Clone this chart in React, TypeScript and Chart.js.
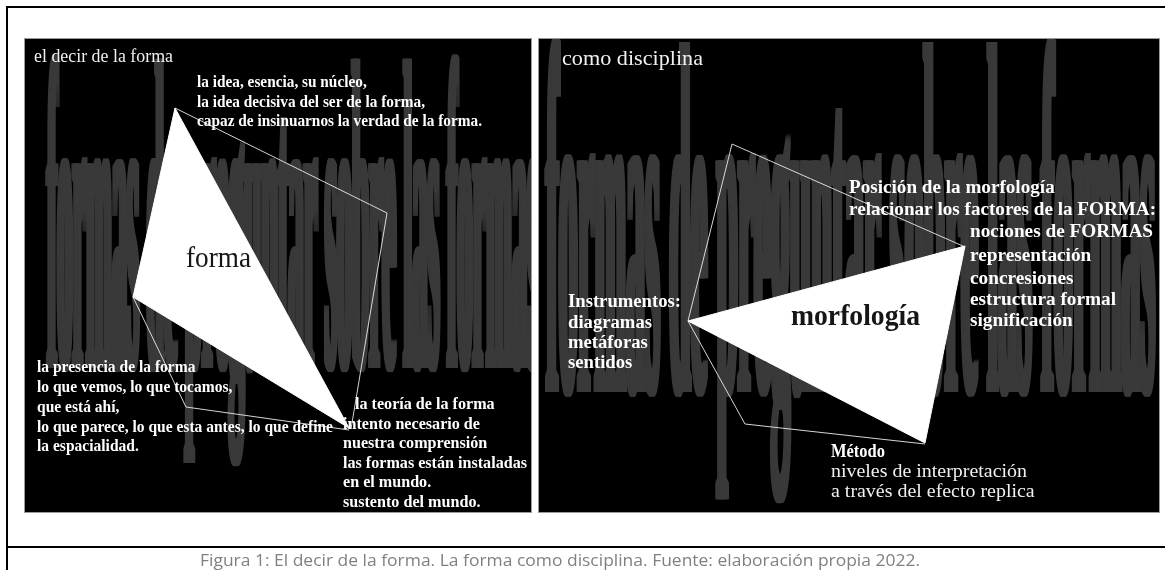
import React, { useEffect, useRef } from "react";
import { Chart, registerables } from "chart.js";

Chart.register(...registerables);

const W = 1165;
const H = 570;

// ---------- diagram data (diagram units) ----------
const panelLeftX = [24, 532];
const panelRightX = [538, 1160];
const panelY = [38, 513];

const leftTriangleX = [175, 133, 349, 175];
const leftTriangleY = [108, 297, 428, 108];
const leftUpperOutlineX = [175, 387, 351];
const leftUpperOutlineY = [108, 213, 429];
const leftLowerOutlineX = [133, 186, 349];
const leftLowerOutlineY = [297, 407, 430];

const rightTriangleX = [688, 965, 925, 688];
const rightTriangleY = [321, 246, 443, 321];
const rightUpperOutlineX = [688, 732, 965];
const rightUpperOutlineY = [321, 144, 247];
const rightLowerOutlineX = [688, 745, 925];
const rightLowerOutlineY = [321, 424, 444];

// ---------- texts ----------
const leftTitle = "el decir de la forma";
const rightTitle = "como disciplina";
const ideaLines = [
  "la idea, esencia, su núcleo,",
  "la idea decisiva del ser de la forma,",
  "capaz de insinuarnos la verdad de la forma.",
];
const presenciaLines = [
  "la presencia de la forma",
  "lo que vemos, lo que tocamos,",
  "que está ahí,",
  "lo que parece, lo que esta antes, lo que define",
  "la espacialidad.",
];
const teoriaLines = [
  "la teoría de la forma",
  "intento necesario de",
  "nuestra comprensión",
  "las formas están instaladas",
  "en el mundo.",
  "sustento del mundo.",
];
const leftCenterLabel = "forma";
const rightCenterLabel = "morfología";
const posicionLines = ["Posición de la morfología", "relacionar los factores de la FORMA:"];
const nocionesLines = ["nociones de FORMAS", "representación", "concresiones", "estructura formal", "significación"];
const instrumentosLines = ["Instrumentos:", "diagramas", "metáforas", "sentidos"];
const metodoTitle = ["Método"];
const metodoLines = ["niveles de interpretación", "a través del efecto replica"];
const watermarkText = "formas de preguntar sobre las formas";
const captionText = "Figura 1: El decir de la forma. La forma como disciplina. Fuente: elaboración propia 2022.";

// ---------- layout / style (kept apart from data) ----------
const SERIF = '"Liberation Serif", "Times New Roman", serif';
const SANS = '"Open Sans", Lato, "Noto Sans", sans-serif';

type Block = {
  lines: string[];
  x: number;
  ys: number[];
  size: number;
  bold: boolean;
  color: string;
  fit: number;
  fitWidth: number;
  indent?: number[];
  family?: string;
};

const blocks: Block[] = [
  { lines: [leftTitle], x: 34, ys: [62], size: 19, bold: false, color: "#f0f0f0", fit: 0, fitWidth: 139 },
  { lines: ideaLines, x: 197, ys: [87, 107, 126], size: 17, bold: true, color: "#ffffff", fit: 2, fitWidth: 285 },
  { lines: [leftCenterLabel], x: 186, ys: [267], size: 30, bold: false, color: "#161616", fit: 0, fitWidth: 65 },
  { lines: presenciaLines, x: 37, ys: [372, 392, 412, 432, 451], size: 17, bold: true, color: "#ffffff", fit: 3, fitWidth: 296 },
  { lines: teoriaLines, x: 343, ys: [409, 429, 448, 468, 487, 507], indent: [12, 0, 0, 0, 0, 0], size: 17, bold: true, color: "#ffffff", fit: 3, fitWidth: 184 },
  { lines: [rightTitle], x: 562, ys: [65], size: 21, bold: false, color: "#f0f0f0", fit: 0, fitWidth: 141 },
  { lines: posicionLines, x: 849, ys: [193, 215], size: 18, bold: true, color: "#ffffff", fit: 1, fitWidth: 307 },
  { lines: nocionesLines, x: 970, ys: [237, 261, 284, 305, 326], size: 18, bold: true, color: "#ffffff", fit: 0, fitWidth: 183 },
  { lines: [rightCenterLabel], x: 791, ys: [325], size: 29, bold: true, color: "#161616", fit: 0, fitWidth: 129 },
  { lines: instrumentosLines, x: 568, ys: [307, 328, 348, 368], size: 18, bold: true, color: "#ffffff", fit: 0, fitWidth: 113 },
  { lines: metodoTitle, x: 831, ys: [457], size: 18, bold: true, color: "#ffffff", fit: 0, fitWidth: 54 },
  { lines: metodoLines, x: 831, ys: [477, 497], size: 18, bold: false, color: "#f0f0f0", fit: 0, fitWidth: 196 },
  { lines: [captionText], x: 200, ys: [566], size: 17, bold: false, color: "#808080", fit: 0, fitWidth: 720, family: SANS },
];

const watermarks = [
  { px: panelLeftX, x0: 47, width: 492, baseline: 368, xHeight: 205 },
  { px: panelRightX, x0: 546, width: 609, baseline: 392, xHeight: 232 },
];

const pts = (xs: number[], ys: number[]) => xs.map((x, i) => ({ x, y: ys[i] }));

const diagramPlugin = {
  id: "diagram",
  beforeDatasetsDraw(chart: any) {
    const { ctx } = chart;
    const sx = chart.scales.x;
    const sy = chart.scales.y;
    const px = (v: number) => sx.getPixelForValue(v);
    const py = (v: number) => sy.getPixelForValue(v);
    ctx.save();
    ctx.fillStyle = "#ffffff";
    ctx.fillRect(0, 0, chart.width, chart.height);

    // outer frame
    ctx.fillStyle = "#000000";
    ctx.fillRect(px(6), py(6), px(W) - px(6), 2);
    ctx.fillRect(px(6), py(6), 2, py(H) - py(6));
    ctx.fillRect(px(6), py(546), px(W) - px(6), 2);

    // panels
    [panelLeftX, panelRightX].forEach((p) => {
      ctx.fillStyle = "#000000";
      ctx.fillRect(px(p[0]), py(panelY[0]), px(p[1]) - px(p[0]), py(panelY[1]) - py(panelY[0]));
      ctx.strokeStyle = "#9a9a9a";
      ctx.lineWidth = 1;
      ctx.strokeRect(px(p[0]) + 0.5, py(panelY[0]) + 0.5, px(p[1]) - px(p[0]) - 1, py(panelY[1]) - py(panelY[0]) - 1);
    });

    // watermark text
    watermarks.forEach((wm) => {
      ctx.save();
      ctx.beginPath();
      ctx.rect(px(wm.px[0]) + 1, py(panelY[0]) + 1, px(wm.px[1]) - px(wm.px[0]) - 2, py(panelY[1]) - py(panelY[0]) - 2);
      ctx.clip();
      ctx.font = `bold 100px ${SERIF}`;
      ctx.textAlign = "left";
      ctx.textBaseline = "alphabetic";
      const tw = ctx.measureText(watermarkText).width;
      const xh = ctx.measureText("x").actualBoundingBoxAscent || 46;
      const kx = (px(wm.x0 + wm.width) - px(wm.x0)) / tw;
      const ky = wm.xHeight / xh;
      ctx.fillStyle = "#393939";
      for (let d = 0; d < 5; d++) {
        ctx.save();
        ctx.translate(px(wm.x0) + d - 2, py(wm.baseline));
        ctx.scale(kx, ky);
        ctx.fillText(watermarkText, 0, 0);
        ctx.restore();
      }
      ctx.restore();
    });
    ctx.restore();
  },
  afterDatasetsDraw(chart: any) {
    const { ctx } = chart;
    const px = (v: number) => chart.scales.x.getPixelForValue(v);
    const py = (v: number) => chart.scales.y.getPixelForValue(v);
    ctx.save();
    ctx.textAlign = "left";
    ctx.textBaseline = "alphabetic";
    blocks.forEach((b) => {
      ctx.font = `${b.bold ? "bold " : ""}${b.size}px ${b.family || SERIF}`;
      ctx.fillStyle = b.color;
      const k = b.fitWidth / ctx.measureText(b.lines[b.fit]).width;
      b.lines.forEach((line, i) => {
        ctx.save();
        ctx.translate(px(b.x + (b.indent ? b.indent[i] : 0)), py(b.ys[i]));
        ctx.scale(k, 1);
        ctx.fillText(line, 0, 0);
        ctx.restore();
      });
    });
    ctx.restore();
  },
};

export default function App() {
  const ref = useRef<HTMLCanvasElement | null>(null);
  useEffect(() => {
    if (!ref.current) return;
    const tri = (xs: number[], ys: number[]) => ({
      data: pts(xs, ys),
      borderColor: "#ffffff",
      backgroundColor: "#ffffff",
      borderWidth: 1,
      fill: "shape",
      pointRadius: 0,
      tension: 0,
      clip: false,
    });
    const outline = (xs: number[], ys: number[]) => ({
      data: pts(xs, ys),
      borderColor: "rgba(235,235,235,0.9)",
      borderWidth: 1,
      fill: false,
      pointRadius: 0,
      tension: 0,
      clip: false,
    });
    const chart = new Chart(ref.current, {
      type: "line",
      data: {
        datasets: [
          tri(leftTriangleX, leftTriangleY),
          tri(rightTriangleX, rightTriangleY),
          outline(leftUpperOutlineX, leftUpperOutlineY),
          outline(leftLowerOutlineX, leftLowerOutlineY),
          outline(rightUpperOutlineX, rightUpperOutlineY),
          outline(rightLowerOutlineX, rightLowerOutlineY),
        ] as any,
      },
      options: {
        animation: false,
        responsive: false,
        maintainAspectRatio: false,
        devicePixelRatio: 1,
        events: [],
        layout: { padding: 0 },
        plugins: { legend: { display: false }, tooltip: { enabled: false }, title: { display: false } },
        scales: {
          x: { type: "linear", min: 0, max: W, display: false },
          y: { type: "linear", min: 0, max: H, reverse: true, display: false },
        },
      } as any,
      plugins: [diagramPlugin],
    });
    return () => chart.destroy();
  }, []);
  return (
    <div style={{ position: "absolute", left: 0, top: 0, width: W, height: H }}>
      <canvas ref={ref} width={W} height={H} style={{ display: "block", width: W, height: H }} />
    </div>
  );
}
